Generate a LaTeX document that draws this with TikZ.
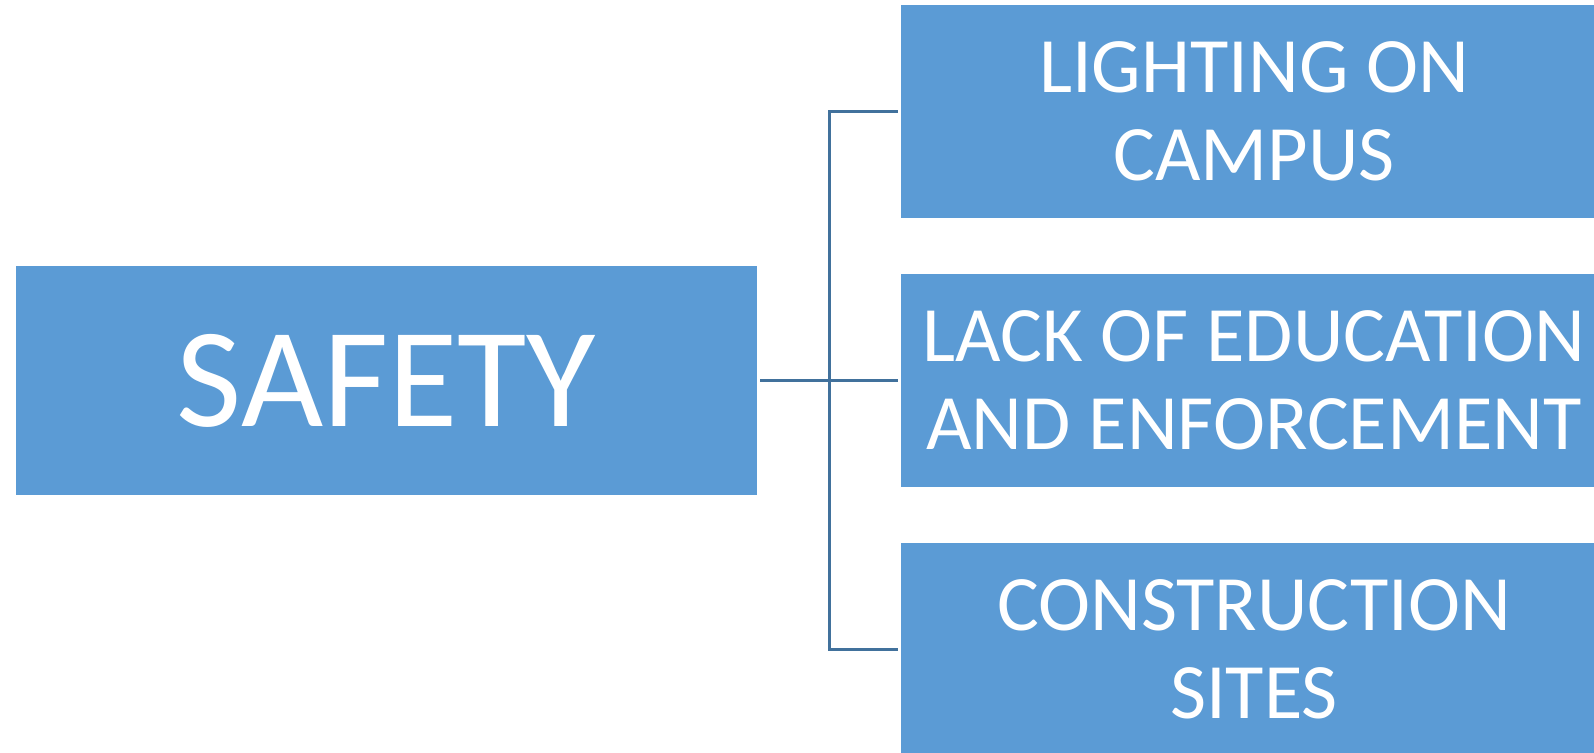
\documentclass[tikz,border=0pt]{standalone}
\usepackage{fontspec}
\setmainfont{Carlito}
\definecolor{boxblue}{HTML}{5B9BD5}
\definecolor{linkblue}{HTML}{41719C}
\begin{document}
\begin{tikzpicture}[x=1pt,y=-1pt,
  box/.style={fill=boxblue,draw=none,text=white,inner sep=0pt,align=center},
  conn/.style={draw=linkblue,line width=3pt,shorten <=3pt,shorten >=3pt}]
\useasboundingbox (0,0) rectangle (1594,752);
\clip (0,0) rectangle (1594,752);
\node[box,minimum width=741pt,minimum height=229pt,font=\fontsize{142}{170}\selectfont] (safety) at (386.5,380.5) {SAFETY};
\node[box,minimum width=706pt,minimum height=213pt,font=\fontsize{78.5}{88}\selectfont] (b1) at (1254,111.5) {LIGHTING ON\\CAMPUS};
\node[box,minimum width=706pt,minimum height=213pt,font=\fontsize{78.5}{88}\selectfont] (b2) at (1254,380.5) {LACK OF EDUCATION\\AND ENFORCEMENT};
\node[box,minimum width=706pt,minimum height=213pt,font=\fontsize{78.5}{88}\selectfont] (b3) at (1254,649.5) {CONSTRUCTION\\SITES};
\coordinate (jt) at (829,111.5);
\coordinate (jb) at (829,649.5);
\draw[conn] (safety.east) -- (b2.west);
\draw[conn,line join=miter] (b1.west) -- (jt) -- (jb) -- (b3.west);
\end{tikzpicture}
\end{document}
